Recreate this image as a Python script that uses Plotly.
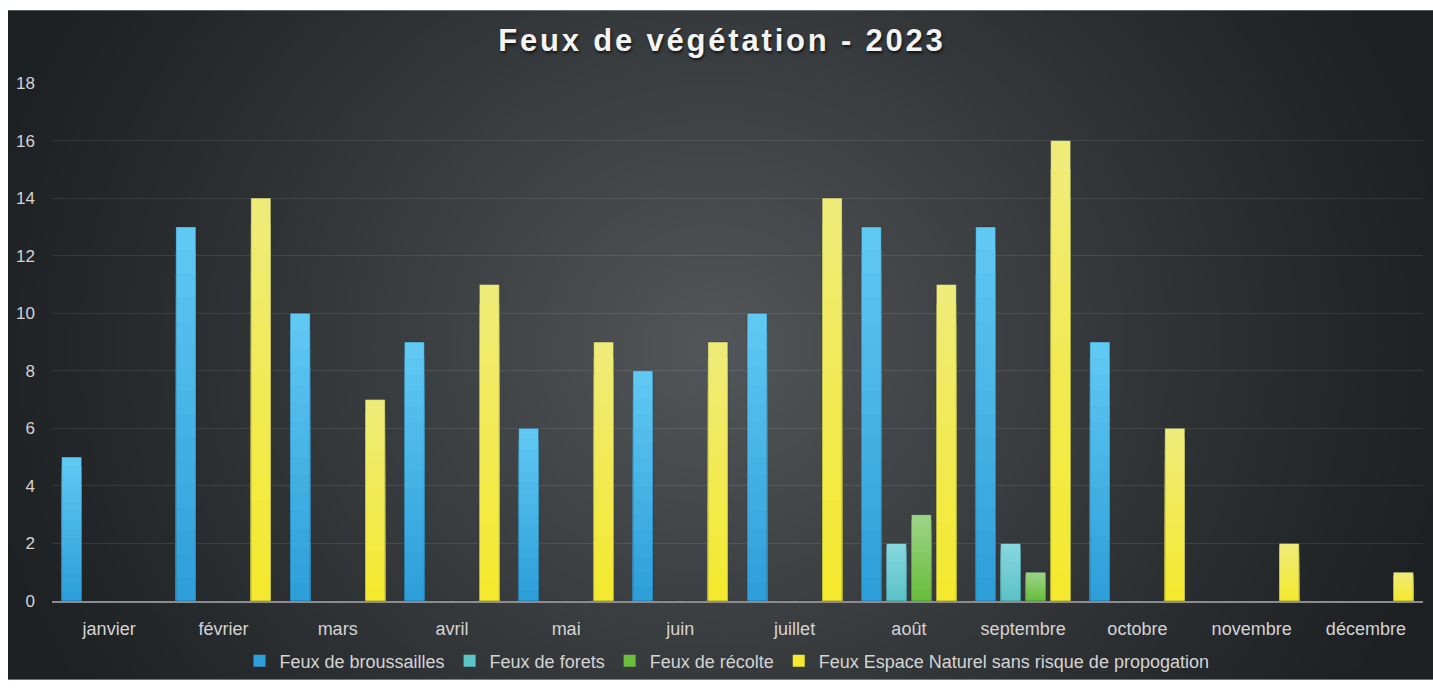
import base64
import struct
import zlib

import numpy as np
import plotly.graph_objects as go

months = ["janvier", "février", "mars", "avril", "mai", "juin", "juillet",
          "août", "septembre", "octobre", "novembre", "décembre"]
series_names = ["Feux de broussailles", "Feux de forets", "Feux de récolte",
                "Feux Espace Naturel sans risque de propogation"]
broussailles = [5, 13, 10, 9, 6, 8, 10, 13, 13, 9, 0, 0]
forets = [0, 0, 0, 0, 0, 0, 0, 2, 2, 0, 0, 0]
recolte = [0, 0, 0, 0, 0, 0, 0, 3, 1, 0, 0, 0]
espace_naturel = [0, 14, 7, 11, 9, 9, 14, 11, 16, 6, 2, 1]
y_ticks = [0, 2, 4, 6, 8, 10, 12, 14, 16, 18]

series_values = [broussailles, forets, recolte, espace_naturel]
# (top colour, bottom colour) for the vertical gradient of each series
grad_colors = [("#5fc8f3", "#2e9fd9"), ("#86d7df", "#5cc3c6"),
               ("#9cd486", "#69be3d"), ("#efeb78", "#f4e92e")]

W, H = 1433, 690
ML, MR, MT, MB = 52, 10, 83, 80
PW, PH = W - ML - MR, H - MT - MB


def px2x(px):
    return (px - ML) / PW


def px2y(py):
    return (MT + PH - py) / PH


def hex2rgb(h):
    h = h.lstrip("#")
    return tuple(int(h[i:i + 2], 16) for i in (0, 2, 4))


def lerp(c1, c2, t):
    a, b = hex2rgb(c1), hex2rgb(c2)
    return "rgb(%d,%d,%d)" % tuple(round(a[i] + (b[i] - a[i]) * t) for i in range(3))


def png_data_uri(rgb):
    h, w, _ = rgb.shape
    raw = b"".join(b"\x00" + rgb[y].astype(np.uint8).tobytes() for y in range(h))

    def chunk(tag, data):
        c = struct.pack(">I", len(data)) + tag + data
        return c + struct.pack(">I", zlib.crc32(tag + data) & 0xFFFFFFFF)

    png = (b"\x89PNG\r\n\x1a\n" + chunk(b"IHDR", struct.pack(">IIBBBBB", w, h, 8, 2, 0, 0, 0))
           + chunk(b"IDAT", zlib.compress(raw, 9)) + chunk(b"IEND", b""))
    return "data:image/png;base64," + base64.b64encode(png).decode()


# radial dark background (the chart panel starts 8px from the left, 9px from the top)
BX0, BY0 = 8, 9
bw, bh = (W - BX0) // 3, (H - BY0) // 3
yy, xx = np.mgrid[0:bh, 0:bw].astype(float)
xx = xx * 3 + BX0
yy = yy * 3 + BY0
d = np.sqrt(((xx - 712) / 760.0) ** 2 + ((yy - 350) / 700.0) ** 2)
f = np.clip(1 - d, 0, 1) ** 1.15
edge = np.array([30, 33, 36], float)
center = np.array([84, 87, 90], float)
img = edge[None, None, :] + (center - edge)[None, None, :] * f[..., None]
bg_uri = png_data_uri(np.clip(img, 0, 255))

fig = go.Figure()
K = 16
for s, (name, vals) in enumerate(zip(series_names, series_values)):
    top, bot = grad_colors[s]
    for k in range(K):
        frac = 1 - k / K
        fig.add_trace(go.Bar(
            x=months, y=[v * frac for v in vals], name=name,
            offsetgroup=str(s), legendgroup=str(s),
            marker=dict(color=lerp(top, bot, k / (K - 1)), line=dict(width=0)),
            showlegend=(k == K - 1), hoverinfo="skip",
        ))
    fig.add_trace(go.Bar(
        x=months, y=vals, name=name, offsetgroup=str(s), legendgroup=str(s),
        marker=dict(color="rgba(0,0,0,0)", line=dict(width=1, color="rgba(20,40,60,0.35)")),
        showlegend=False, hoverinfo="skip",
    ))

fig.add_layout_image(dict(source=bg_uri, xref="paper", yref="paper",
                          x=px2x(BX0), y=px2y(BY0), sizex=(W - BX0) / PW, sizey=(H - BY0) / PH,
                          xanchor="left", yanchor="top", sizing="stretch", layer="below"))

fig.update_layout(
    width=W, height=H, autosize=False,
    margin=dict(l=ML, r=MR, t=MT, b=MB, pad=0),
    paper_bgcolor="white", plot_bgcolor="rgba(0,0,0,0)",
    barmode="group", bargap=0.125, bargroupgap=0.2,
    title=dict(text="<b>Feux de végétation - 2023</b>", x=722 / W, xref="container",
               y=1 - 40 / H, yref="container", xanchor="center", yanchor="middle",
               font=dict(family="Liberation Sans, Arial, sans-serif", size=31, color="#f4f4f4",
                         shadow="1px 2px 3px rgba(0,0,0,0.7)")),
    font=dict(family="Liberation Sans, Arial, sans-serif", color="#d4d4d4", size=17),
    xaxis=dict(showgrid=False, showline=True, linecolor="#8c8c8c", linewidth=2,
               ticks="", ticklabelstandoff=10, tickfont=dict(size=18, color="#d4d4d4"),
               zeroline=False, fixedrange=True),
    yaxis=dict(range=[0, 18], tickvals=y_ticks, showgrid=True,
               gridcolor="rgba(255,255,255,0.09)", gridwidth=1, zeroline=False,
               showline=False, ticks="", ticklabelstandoff=16,
               tickfont=dict(size=17, color="#d4d4d4"), fixedrange=True),
    legend=dict(orientation="h", x=px2x(727), xanchor="center",
                y=px2y(671), yanchor="middle",
                font=dict(size=18, color="#d4d4d4"), bgcolor="rgba(0,0,0,0)",
                traceorder="normal", itemclick=False, itemdoubleclick=False,
                itemwidth=30),
    showlegend=True,
)

post = ("var fit='margin:0;padding:0;overflow:hidden;width:1433px;height:690px;';"
        "document.documentElement.style.cssText=fit;"
        "document.body.style.cssText=fit;"
        "document.querySelectorAll('.gtitle').forEach(function(t){t.style.letterSpacing='2.8px';});")
fig.write_html("out.html", post_script=post,
               config={"responsive": False, "displayModeBar": False})
